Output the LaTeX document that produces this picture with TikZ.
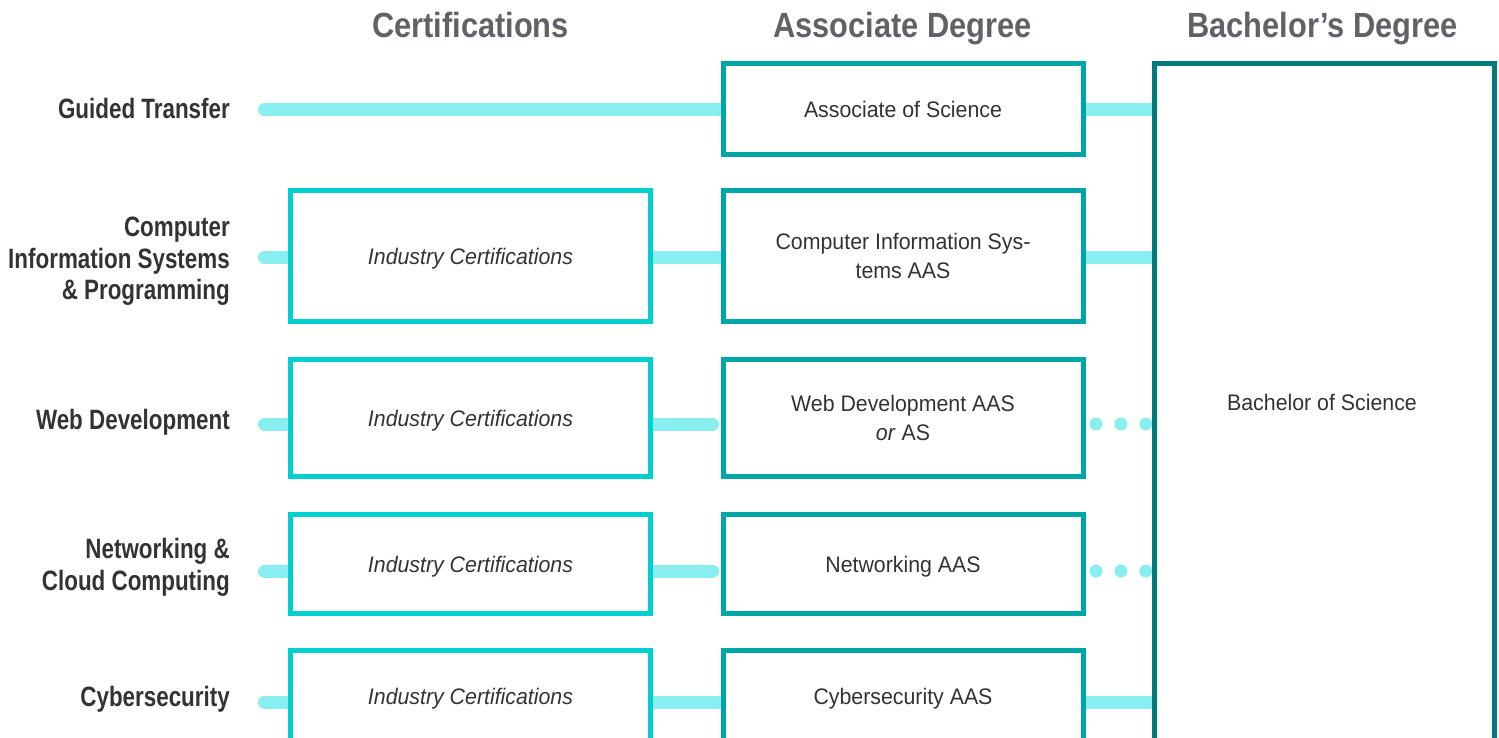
\documentclass[tikz,border=0pt]{standalone}
\usepackage{fontspec}
\setmainfont{Liberation Sans}[FakeStretch=0.948]
\newfontfamily\hdrfont{Liberation Sans}[FakeStretch=0.88]
\newfontfamily\lblfont{Liberation Sans}[FakeStretch=0.80]
\usetikzlibrary{backgrounds}
\definecolor{certc}{RGB}{0,208,208}
\definecolor{assocc}{RGB}{0,165,165}
\definecolor{bachc}{RGB}{0,123,123}
\definecolor{connc}{RGB}{136,238,240}
\definecolor{hdrc}{RGB}{95,99,104}
\definecolor{lblc}{RGB}{51,51,51}
\definecolor{textc}{RGB}{51,51,51}
\tikzset{
  hdr/.style={font=\hdrfont\bfseries\fontsize{35}{40}\selectfont, text=hdrc, inner sep=0pt, anchor=base},
  lbl/.style={font=\lblfont\bfseries\fontsize{28}{31.5}\selectfont, text=lblc, align=right, inner sep=0pt},
  basebox/.style={line width=5pt, fill=white, minimum width=360pt, inner sep=0pt, text=textc, align=center, font=\fontsize{22.5}{28.5}\selectfont},
  oneline/.style={text height=16.1pt, text depth=0pt},
  certbox/.style={basebox, draw=certc},
  assocbox/.style={basebox, draw=assocc},
  bachbox/.style={basebox, draw=bachc, minimum width=340pt},
  conn/.style={draw=connc, line width=13pt, line cap=round},
  dotline/.style={draw=connc, line width=13pt, line cap=round, dash pattern=on 0pt off 24.9pt},
}
\begin{document}
\begin{tikzpicture}[x=1pt,y=-1pt]
\clip (0,0) rectangle (1499,738);
% headers
\node[hdr] (h1) at (470.5,38) {Certifications};
\node[hdr] (h2) at (902.5,38) {Associate Degree};
\node[hdr] (h3) at (1322.5,38) {Bachelor’s Degree};
% row labels
\node[lbl, anchor=base east] (l1) at (230,119) {Guided Transfer};
\node[lbl, anchor=east] (l2) at (230,261.5) {Computer\\Information Systems\\\& Programming};
\node[lbl, anchor=base east] (l3) at (230,429) {Web Development};
\node[lbl, anchor=east] (l4) at (230,567.3) {Networking \&\\Cloud Computing};
\node[lbl, anchor=base east] (l5) at (230,706) {Cybersecurity};
% bachelor box
\node[bachbox, oneline, minimum height=677.5pt] (bs) at (1324.5,402.25) {\hspace*{-5pt}Bachelor of Science};
% certification boxes
\node[certbox, oneline, minimum height=131pt] (c2) at (470.5,256) {\itshape Industry Certifications};
\node[certbox, oneline, minimum height=117pt] (c3) at (470.5,418) {\itshape Industry Certifications};
\node[certbox, oneline, minimum height=99pt] (c4) at (470.5,564) {\itshape Industry Certifications};
\node[certbox, oneline, minimum height=91pt] (c5) at (470.5,696) {\itshape Industry Certifications};
% associate boxes
\node[assocbox, oneline, minimum height=91pt] (a1) at (903,109) {Associate of Science};
\node[assocbox, minimum height=131pt] (a2) at (903,256) {Computer Information Sys-\\tems AAS};
\node[assocbox, minimum height=117pt] (a3) at (903,418) {Web Development AAS\\\textit{or} AS};
\node[assocbox, oneline, minimum height=99pt] (a4) at (903,564) {Networking AAS};
\node[assocbox, oneline, minimum height=91pt] (a5) at (903,696) {Cybersecurity AAS};
% connector start points
\coordinate (s1) at (264.5,110);
\coordinate (s2) at (264.5,257);
\coordinate (s3) at (264.5,424);
\coordinate (s4) at (264.5,571);
\coordinate (s5) at (264.5,702);
\begin{scope}[on background layer]
  \draw[conn] (s1) -- (s1 -| a1.west);
  \draw[conn] (a1.east |- s1) -- (s1 -| bs.west);
  \draw[conn] (s2) -- (s2 -| c2.west);
  \draw[conn] (c2.east |- s2) -- (s2 -| a2.west);
  \draw[conn] (a2.east |- s2) -- (s2 -| bs.west);
  \draw[conn] (s3) -- (s3 -| c3.west);
  \draw[conn] (c3.east |- s3) -- ([xshift=-8pt]s3 -| a3.west);
  \draw[dotline] ([xshift=10.5pt]a3.east |- s3) -- ([xshift=-6pt]s3 -| bs.west);
  \draw[conn] (s4) -- (s4 -| c4.west);
  \draw[conn] (c4.east |- s4) -- ([xshift=-8pt]s4 -| a4.west);
  \draw[dotline] ([xshift=10.5pt]a4.east |- s4) -- ([xshift=-6pt]s4 -| bs.west);
  \draw[conn] (s5) -- (s5 -| c5.west);
  \draw[conn] (c5.east |- s5) -- (s5 -| a5.west);
  \draw[conn] (a5.east |- s5) -- (s5 -| bs.west);
\end{scope}
\end{tikzpicture}
\end{document}
